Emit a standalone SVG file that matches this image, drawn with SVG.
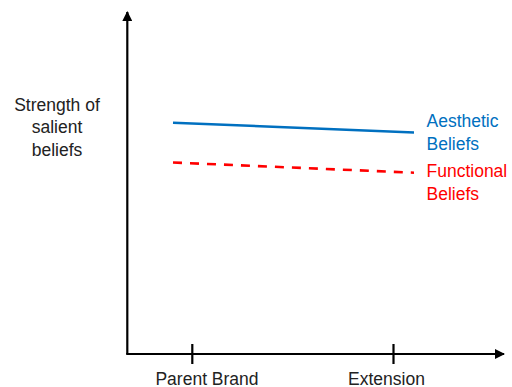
<svg xmlns="http://www.w3.org/2000/svg" width="512" height="387" viewBox="0 0 512 387">
<style>
text{font-family:"Liberation Sans",Arial,sans-serif;font-size:17.5px}
.ax{stroke:#000;stroke-width:2.2;fill:none}
.lbl{fill:#222}
</style>
<defs>
<marker id="ah" markerWidth="10" markerHeight="10" refX="9" refY="5" orient="auto" markerUnits="userSpaceOnUse">
<path d="M0,0 L10,5 L0,10 Z" fill="#000"/>
</marker>
</defs>
<rect width="512" height="387" fill="#fff"/>
<g id="connectors">
<path class="ax" d="M127.3,354 V12" marker-end="url(#ah)"/>
<path class="ax" d="M126.2,354 H504" marker-end="url(#ah)"/>
<line class="ax" x1="192.3" y1="344" x2="192.3" y2="364"/>
<line class="ax" x1="393.5" y1="344" x2="393.5" y2="364"/>
<line x1="173" y1="122.7" x2="414" y2="132.5" stroke="#0070C0" stroke-width="2.5"/>
<line x1="173" y1="162.5" x2="414" y2="172.7" stroke="#FF0000" stroke-width="2.6" stroke-dasharray="9,8"/>
</g>
<g id="yaxis-label">
<text class="lbl" x="57" y="110.5" text-anchor="middle">Strength of</text>
<text class="lbl" x="57" y="133.3" text-anchor="middle">salient</text>
<text class="lbl" x="57" y="155.8" text-anchor="middle">beliefs</text>
</g>
<g id="parent-brand"><text class="lbl" x="207" y="384.5" text-anchor="middle">Parent Brand</text></g>
<g id="extension"><text class="lbl" x="386.5" y="384.5" text-anchor="middle">Extension</text></g>
<g id="aesthetic">
<text x="426.5" y="126.7" fill="#0070C0">Aesthetic</text>
<text x="426.5" y="150" fill="#0070C0">Beliefs</text>
</g>
<g id="functional">
<text x="426.5" y="176.7" fill="#FF0000">Functional</text>
<text x="426.5" y="199.5" fill="#FF0000">Beliefs</text>
</g>
</svg>
